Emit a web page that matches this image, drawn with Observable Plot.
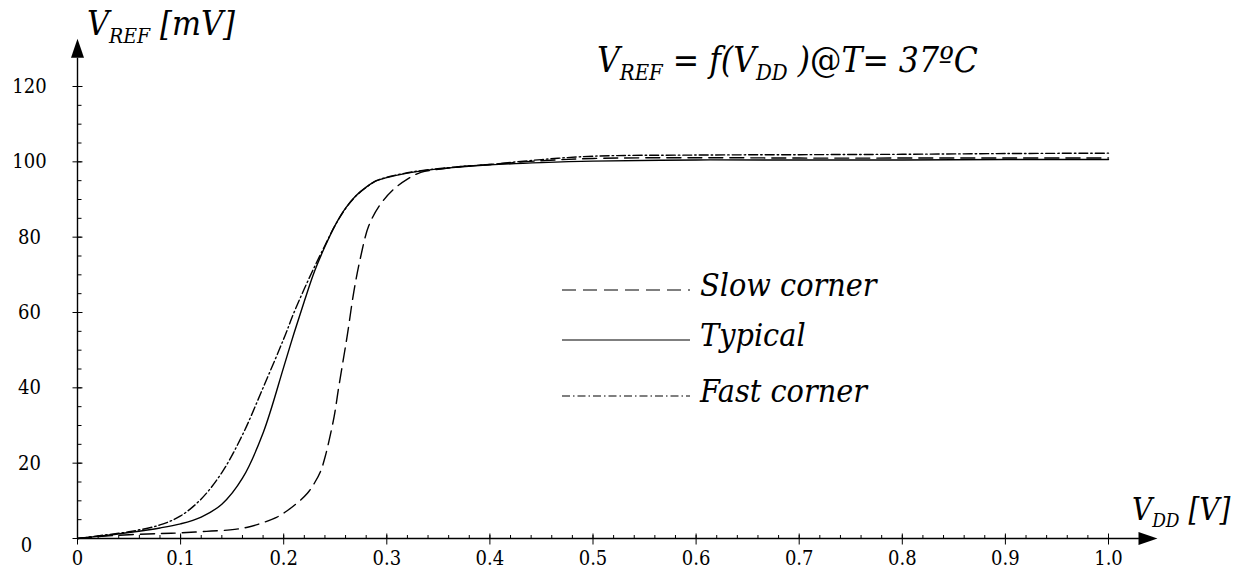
<!DOCTYPE html>
<html>
<head>
<meta charset="utf-8">
<script src="https://cdn.jsdelivr.net/npm/d3@7"></script>
<script src="https://cdn.jsdelivr.net/npm/@observablehq/plot@0.6"></script>
<style>
  html, body { margin: 0; padding: 0; background: #fff; }
  #chart { width: 1247px; height: 571px; }
  #chart svg text { font-stretch: condensed; }
</style>
</head>
<body>
<div id="chart"></div>
<script>
// ---- data ----
const seriesNames = ["Slow corner", "Typical", "Fast corner"];

const vddTypical  = [0, 0.02, 0.05, 0.08, 0.10, 0.12, 0.14, 0.16, 0.18, 0.20, 0.21, 0.22, 0.23, 0.24, 0.25, 0.26, 0.27, 0.28, 0.29, 0.30, 0.32, 0.34, 0.37, 0.40, 0.45, 0.50, 0.60, 0.70, 0.80, 0.90, 1.00];
const vrefTypical = [0, 0.6, 1.6, 2.8, 3.9, 5.7, 9.1, 16.0, 28.0, 45.5, 54.5, 63.0, 71.0, 77.5, 83.2, 87.7, 91.0, 93.3, 95.0, 95.8, 97.0, 97.8, 98.6, 99.2, 99.8, 100.2, 100.5, 100.5, 100.5, 100.6, 100.6];

const vddFast  = [0, 0.02, 0.05, 0.08, 0.10, 0.12, 0.14, 0.16, 0.18, 0.20, 0.21, 0.22, 0.23, 0.24, 0.25, 0.26, 0.27, 0.28, 0.29, 0.30, 0.32, 0.34, 0.37, 0.40, 0.45, 0.50, 0.60, 0.70, 0.80, 0.90, 1.00];
const vrefFast = [0, 0.7, 1.8, 3.6, 6.0, 10.5, 17.5, 27.5, 40.0, 53.0, 60.0, 66.3, 72.2, 77.8, 83.2, 87.6, 90.9, 93.2, 95.0, 95.9, 97.1, 97.9, 98.7, 99.3, 100.6, 101.5, 101.8, 101.9, 102.0, 102.2, 102.3];

const vddSlow  = [0, 0.02, 0.05, 0.08, 0.10, 0.125, 0.148, 0.165, 0.181, 0.193, 0.203, 0.213, 0.223, 0.230, 0.236, 0.240, 0.244, 0.249, 0.253, 0.2575, 0.262, 0.268, 0.2745, 0.2825, 0.294, 0.307, 0.320, 0.333, 0.35, 0.37, 0.40, 0.45, 0.50, 0.60, 0.70, 0.80, 0.90, 1.00];
const vrefSlow = [0, 0.5, 1.0, 1.3, 1.5, 1.9, 2.3, 3.0, 4.3, 5.6, 7.3, 9.4, 12.0, 14.8, 18.0, 21.5, 26.0, 32.5, 39.5, 47.0, 54.5, 65.5, 74.6, 83.0, 88.8, 92.8, 95.4, 97.2, 98.0, 98.7, 99.3, 100.3, 100.9, 101.1, 101.0, 101.0, 101.0, 101.0];

const xTickValues = [0, 0.1, 0.2, 0.3, 0.4, 0.5, 0.6, 0.7, 0.8, 0.9, 1.0];
const xTickLabels = ["0", "0.1", "0.2", "0.3", "0.4", "0.5", "0.6", "0.7", "0.8", "0.9", "1.0"];
const yTickValues = [0, 20, 40, 60, 80, 100, 120];
const yTickLabels = ["0", "20", "40", "60", "80", "100", "120"];
const xMinorStep = 0.02;
const yMinorStep = 5;

// ---- build tables ----
const toRows = (xs, ys, name) => xs.map((x, i) => ({vdd: x, vref: ys[i], series: name}));
const slowRows = toRows(vddSlow, vrefSlow, seriesNames[0]);
const typRows  = toRows(vddTypical, vrefTypical, seriesNames[1]);
const fastRows = toRows(vddFast, vrefFast, seriesNames[2]);

const xMinor = d3.range(0, 1.0 + 1e-9, xMinorStep).map(v => +v.toFixed(3));
const yMinor = d3.range(0, 120 + 1e-9, yMinorStep);

// axis extents (arrow tips) in data units
const X_AXIS_END = 1.030, X_TIP = 1.0475;
const Y_AXIS_END = 127.5, Y_TIP = 132.7;

// ---- custom symbols (styles) ----
const pathSymbol = (pts, close) => ({
  draw(ctx) {
    ctx.moveTo(pts[0][0], pts[0][1]);
    for (let i = 1; i < pts.length; i++) ctx.lineTo(pts[i][0], pts[i][1]);
    if (close) ctx.closePath();
  }
});
const xMajorTick = pathSymbol([[0, -5], [0, 6]]);
const xMinorTick = pathSymbol([[0, -3.5], [0, 0]]);
const yMajorTick = pathSymbol([[-5, 0], [5, 0]]);
const yMinorTick = pathSymbol([[0, 0], [4, 0]]);
const arrowUp    = pathSymbol([[0, 0], [6.5, 19], [-6.5, 19]], true);
const arrowRight = pathSymbol([[0, 0], [-19, -6.5], [-19, 6.5]], true);

const SERIF = "DejaVu Serif Condensed, DejaVu Serif, serif";
const lineW = 1.4;
const curve = "catmull-rom";

const svg = Plot.plot({
  width: 1247,
  height: 571,
  marginLeft: 77,
  marginRight: 139,
  marginTop: 86,
  marginBottom: 33,
  x: {domain: [0, 1], axis: null},
  y: {domain: [0, 120], axis: null},
  style: {background: "white", color: "black"},
  marks: [
    Plot.ruleY([0], {x1: 0, x2: X_AXIS_END, stroke: "black", strokeWidth: 1.4}),
    Plot.ruleX([0], {y1: 0, y2: Y_AXIS_END, stroke: "black", strokeWidth: 1.4}),
    Plot.dot([0], {x: X_TIP, y: 0, symbol: arrowRight, fill: "black", stroke: "none"}),
    Plot.dot([0], {x: 0, y: Y_TIP, symbol: arrowUp, fill: "black", stroke: "none"}),
    Plot.dot(xMinor, {x: d => d, y: 0, symbol: xMinorTick, fill: "none", stroke: "black", strokeWidth: 1}),
    Plot.dot(xTickValues, {x: d => d, y: 0, symbol: xMajorTick, fill: "none", stroke: "black", strokeWidth: 1}),
    Plot.dot(yMinor, {x: 0, y: d => d, symbol: yMinorTick, fill: "none", stroke: "black", strokeWidth: 1}),
    Plot.dot(yTickValues, {x: 0, y: d => d, symbol: yMajorTick, fill: "none", stroke: "black", strokeWidth: 1}),
    Plot.text(xTickValues, {x: d => d, y: 0, text: (d, i) => xTickLabels[i], lineAnchor: "top", dy: 12,
      fontSize: 20, fontFamily: SERIF, fill: "black"}),
    Plot.text(yTickValues.slice(1), {x: 0, y: d => d, text: (d, i) => yTickLabels[i + 1], textAnchor: "middle", dx: -48,
      fontSize: 20, fontFamily: SERIF, fill: "black"}),
    Plot.text(yTickValues.slice(0, 1), {x: 0, y: d => d, text: (d, i) => yTickLabels[i], textAnchor: "middle", dx: -51, dy: 7,
      fontSize: 20, fontFamily: SERIF, fill: "black"}),
    Plot.line(slowRows, {x: "vdd", y: "vref", curve, stroke: "black", strokeWidth: lineW, strokeDasharray: "14,7"}),
    Plot.line(fastRows, {x: "vdd", y: "vref", curve, stroke: "black", strokeWidth: lineW, strokeDasharray: "9,3,1.5,3"}),
    Plot.line(typRows, {x: "vdd", y: "vref", curve, stroke: "black", strokeWidth: lineW})
  ]
});

document.getElementById("chart").appendChild(svg);

const root = d3.select(svg);
function richText(x, y, parts) {
  const t = root.append("text")
    .attr("x", x).attr("y", y)
    .attr("text-anchor", "start")
    .attr("font-family", SERIF)
    .attr("fill", "black");
  parts.forEach(p => {
    t.append("tspan")
      .attr("font-size", p.size)
      .attr("font-style", p.italic === false ? "normal" : "italic")
      .attr("dy", p.dy || 0)
      .text(p.text);
  });
  return t;
}

// Y axis title
richText(87, 35, [
  {text: "V", size: 34},
  {text: "REF", size: 21, dy: 8},
  {text: " [mV]", size: 34, dy: -8}
]);

// X axis title
richText(1132, 520, [
  {text: "V", size: 31},
  {text: "DD", size: 19, dy: 7},
  {text: " [V]", size: 31, dy: -7}
]);

// formula
richText(597, 72, [
  {text: "V", size: 35},
  {text: "REF", size: 22, dy: 8},
  {text: " = ", size: 35, dy: -8, italic: false},
  {text: "f(V", size: 35},
  {text: "DD", size: 22, dy: 8},
  {text: " )", size: 35, dy: -8},
  {text: "@", size: 35, italic: false},
  {text: "T", size: 35},
  {text: "= ", size: 35, italic: false},
  {text: "37ºC", size: 35}
]);

// legend
const legend = [
  {name: seriesNames[0], dash: "14,7", lineY: 290, textY: 296},
  {name: seriesNames[1], dash: null, lineY: 340, textY: 346},
  {name: seriesNames[2], dash: "8,3,1.5,3", lineY: 396, textY: 402}
];
legend.forEach(l => {
  const ln = root.append("line")
    .attr("x1", 562).attr("x2", 690)
    .attr("y1", l.lineY).attr("y2", l.lineY)
    .attr("stroke", "black").attr("stroke-width", 1.2);
  if (l.dash) ln.attr("stroke-dasharray", l.dash);
  richText(700, l.textY, [{text: l.name, size: 32}]);
});
</script>
</body>
</html>
